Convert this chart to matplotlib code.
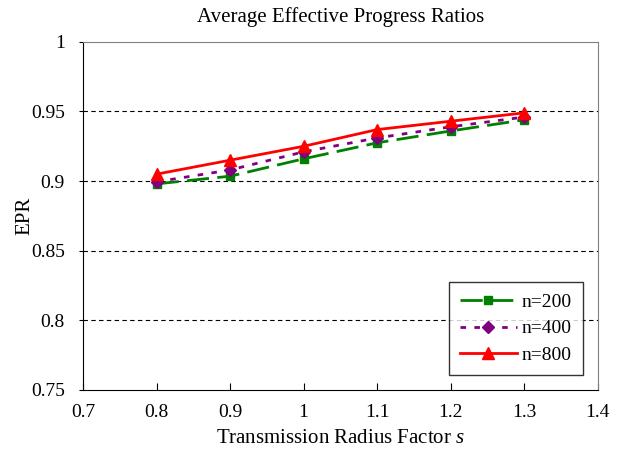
import matplotlib
matplotlib.use("Agg")
import matplotlib.pyplot as plt

plt.rcParams['font.family'] = ['Liberation Serif', 'DejaVu Serif']
plt.rcParams['mathtext.fontset'] = 'custom'
plt.rcParams['mathtext.rm'] = 'Liberation Serif'
plt.rcParams['mathtext.it'] = 'Liberation Serif:italic'

s = [0.8, 0.9, 1.0, 1.1, 1.2, 1.3]
epr_200 = [0.898, 0.9035, 0.916, 0.9275, 0.936, 0.944]
epr_400 = [0.8995, 0.908, 0.921, 0.931, 0.939, 0.946]
epr_800 = [0.905, 0.915, 0.925, 0.937, 0.943, 0.949]

fig = plt.figure(figsize=(6.24, 4.55), dpi=100)
ax = fig.add_axes([0.133, 0.143, 0.825, 0.765])

ax.plot(s, epr_200, color='green', linestyle=(0, (8, 3)), linewidth=2,
        marker='s', markersize=6, label='n=200')
ax.plot(s, epr_400, color='purple', linestyle=(0, (2, 3)), linewidth=2,
        marker='D', markersize=6, label='n=400')
ax.plot(s, epr_800, color='red', linestyle='-', linewidth=2,
        marker='^', markersize=8, label='n=800')

ax.set_xlim(0.7, 1.4)
ax.set_ylim(0.75, 1.0)
ax.set_xticks([0.7, 0.8, 0.9, 1.0, 1.1, 1.2, 1.3, 1.4])
ax.set_xticklabels(['0.7', '0.8', '0.9', '1', '1.1', '1.2', '1.3', '1.4'])
ax.set_yticks([0.75, 0.8, 0.85, 0.9, 0.95, 1.0])
ax.set_yticklabels(['0.75', '0.8', '0.85', '0.9', '0.95', '1'])
ax.tick_params(axis='x', direction='in', length=5, labelsize=14, pad=10)
ax.tick_params(axis='y', direction='out', length=3, labelsize=14, pad=10)

for y in [0.8, 0.85, 0.9, 0.95]:
    ax.axhline(y, color='black', linestyle=(0, (4, 3)), linewidth=0.8, zorder=0)

ax.spines['top'].set_color('gray')
ax.spines['right'].set_color('gray')

ax.set_title('Average Effective Progress Ratios', fontsize=15, pad=14)
ax.set_xlabel('Transmission Radius Factor $\\mathit{s}$', fontsize=15, labelpad=6)
ax.set_ylabel('EPR', fontsize=15)
ax.yaxis.set_label_coords(-0.095, 0.5)

leg = ax.legend(loc='lower right', fontsize=14, fancybox=False, edgecolor='black',
                handlelength=2.9, handletextpad=0.25, labelspacing=0.45,
                borderaxespad=0.75, borderpad=0.6)
leg.get_frame().set_linewidth(1)

fig.savefig('out.png', dpi=100)
